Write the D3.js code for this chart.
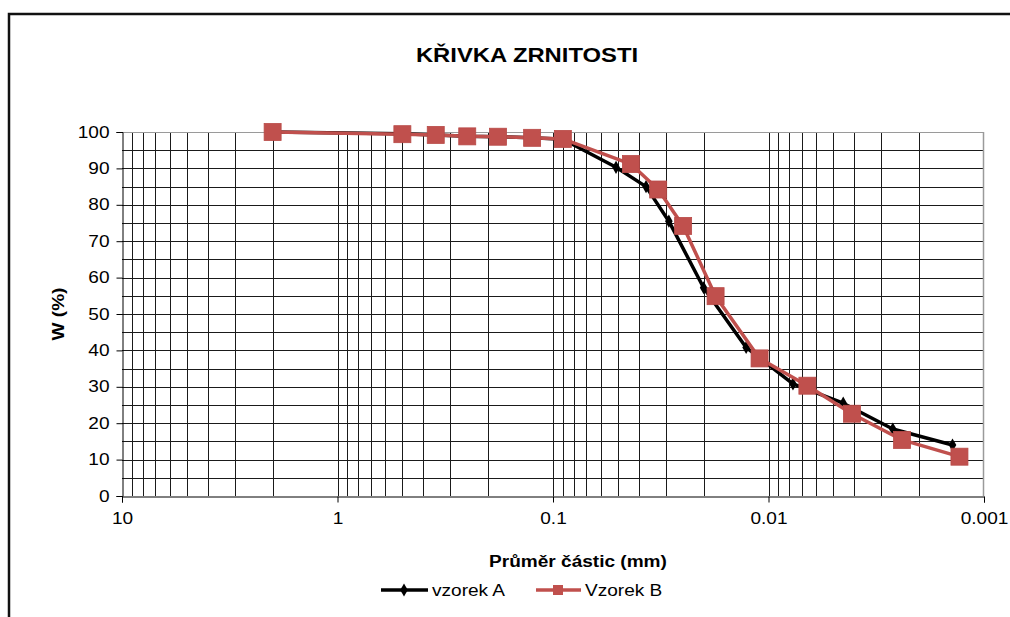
<!DOCTYPE html>
<html>
<head>
<meta charset="utf-8">
<script src="https://cdn.jsdelivr.net/npm/d3@7"></script>
<style>
  html, body { margin: 0; padding: 0; background: #fff; }
  svg { display: block; font-family: "Liberation Sans", Arial, sans-serif; }
</style>
</head>
<body>
<svg id="chart" width="1010" height="617"></svg>
<script>
// Grain size distribution: particle diameter (mm) vs. percentage passing
const sizesA = [2, 0.5, 0.35, 0.25, 0.18, 0.125, 0.09, 0.051, 0.037, 0.029, 0.020, 0.0127, 0.0077, 0.0045, 0.00265, 0.0014];
const passA  = [100, 99.5, 99.2, 98.8, 98.7, 98.4, 98.0, 90.3, 85.0, 75.5, 57.2, 40.8, 30.8, 25.5, 18.4, 14.0];
const sizesB = [2, 0.5, 0.35, 0.25, 0.18, 0.125, 0.09, 0.0435, 0.0325, 0.0249, 0.0176, 0.011, 0.0066, 0.0041, 0.0024, 0.0013];
const passB  = [100, 99.4, 99.2, 98.8, 98.7, 98.4, 98.1, 91.2, 84.2, 74.2, 54.9, 37.8, 30.3, 22.6, 15.4, 10.8];
const xTicks = [10, 1, 0.1, 0.01, 0.001];
const xTickLabels = ["10", "1", "0.1", "0.01", "0.001"];
const yTicks = [0, 10, 20, 30, 40, 50, 60, 70, 80, 90, 100];
const seriesNames = ["vzorek A", "Vzorek B"];
const titleText = "KŘIVKA ZRNITOSTI";
const xTitle = "Průměr částic (mm)";
const yTitle = "W (%)";

const colorA = "#000000";
const colorB = "#C0504D";

const svg = d3.select("#chart");
const plotL = 122, plotR = 984, plotT = 132, plotB = 496;

const x = d3.scaleLog().domain([10, 0.001]).range([plotL, plotR]);
const y = d3.scaleLinear().domain([0, 100]).range([plotB, plotT]);

// outer frame
svg.append("path")
  .attr("d", "M9,617 L9,14 L1010,14")
  .attr("fill", "none").attr("stroke", "#111").attr("stroke-width", 2.5);

// title
svg.append("text")
  .attr("x", 527).attr("y", 62)
  .attr("text-anchor", "middle")
  .attr("font-size", 20).attr("font-weight", "bold")
  .text(titleText);

const grid = svg.append("g");
// vertical grid at 1..9 of each decade
const vgrid = [];
for (let e = 0; e > -3.5; e--) {
  for (let k = 1; k <= 9; k++) {
    const v = k * Math.pow(10, e);
    if (v < 10 && v > 0.001) vgrid.push(v);
  }
}
grid.selectAll("line.v").data(vgrid).join("line")
  .attr("class", "v")
  .attr("x1", d => Math.round(x(d)) + 0.5).attr("x2", d => Math.round(x(d)) + 0.5)
  .attr("y1", plotT).attr("y2", plotB)
  .attr("stroke", "#1a1a1a").attr("stroke-width", 1);

// horizontal grid every 5 %
const hgrid = d3.range(5, 100, 5);
grid.selectAll("line.h").data(hgrid).join("line")
  .attr("class", "h")
  .attr("x1", plotL).attr("x2", plotR)
  .attr("y1", d => Math.round(y(d)) + 0.5).attr("y2", d => Math.round(y(d)) + 0.5)
  .attr("stroke", "#1a1a1a").attr("stroke-width", 1);

// top and right borders of plot area
grid.append("line").attr("x1", plotL).attr("x2", plotR)
  .attr("y1", plotT + 0.5).attr("y2", plotT + 0.5).attr("stroke", "#9a9a9a");
grid.append("line").attr("x1", plotR - 0.5).attr("x2", plotR - 0.5)
  .attr("y1", plotT).attr("y2", plotB).attr("stroke", "#9a9a9a").attr("stroke-width", 1.5);

// y axis
const yAxis = d3.axisLeft(y).tickValues(yTicks).tickSize(6).tickPadding(7);
const gy = svg.append("g").attr("transform", `translate(${plotL + 0.5},0)`).call(yAxis);
gy.select(".domain").attr("stroke", "#000");
gy.selectAll(".tick line").attr("stroke", "#000");
gy.selectAll(".tick text").attr("font-size", 16).attr("font-family", "Liberation Sans, Arial, sans-serif").attr("fill", "#000");

// x axis
const xAxis = d3.axisBottom(x).tickValues(xTicks)
  .tickFormat((d, i) => xTickLabels[i]).tickSize(6).tickPadding(10);
const gx = svg.append("g").attr("transform", `translate(0,${plotB + 0.5})`).call(xAxis);
gx.select(".domain").attr("stroke", "#000");
gx.selectAll(".tick line").attr("stroke", "#000");
gx.selectAll(".tick text").attr("font-size", 16).attr("font-family", "Liberation Sans, Arial, sans-serif").attr("fill", "#000");

// axis titles
svg.append("text")
  .attr("x", 578).attr("y", 567)
  .attr("text-anchor", "middle").attr("font-size", 16).attr("font-weight", "bold")
  .text(xTitle);
svg.append("text")
  .attr("transform", "translate(64,314) rotate(-90)")
  .attr("text-anchor", "middle").attr("font-size", 16).attr("font-weight", "bold")
  .text(yTitle);

// series
const dataA = sizesA.map((s, i) => [s, passA[i]]);
const dataB = sizesB.map((s, i) => [s, passB[i]]);
const line = d3.line().x(d => x(d[0])).y(d => y(d[1]));

const diamond = d3.symbol().type(d3.symbolDiamond).size(50);

svg.append("path").datum(dataA).attr("d", line)
  .attr("fill", "none").attr("stroke", colorA).attr("stroke-width", 3.5)
  .attr("stroke-linejoin", "round");
svg.selectAll("path.mA").data(dataA).join("path")
  .attr("class", "mA")
  .attr("transform", d => `translate(${x(d[0])},${y(d[1])})`)
  .attr("d", diamond).attr("fill", colorA);

svg.append("path").datum(dataB).attr("d", line)
  .attr("fill", "none").attr("stroke", colorB).attr("stroke-width", 3.5)
  .attr("stroke-linejoin", "round");
const sq = 17;
svg.selectAll("rect.mB").data(dataB).join("rect")
  .attr("class", "mB")
  .attr("x", d => x(d[0]) - sq / 2).attr("y", d => y(d[1]) - sq / 2)
  .attr("width", sq).attr("height", sq)
  .attr("fill", colorB).attr("stroke", "#b84a47").attr("stroke-width", 0.8);

// legend
const lg = svg.append("g").attr("transform", "translate(0,590)");
lg.append("line").attr("x1", 381).attr("x2", 428).attr("y1", 0).attr("y2", 0)
  .attr("stroke", colorA).attr("stroke-width", 3.5);
lg.append("path").attr("transform", "translate(404,0)").attr("d", diamond).attr("fill", colorA);
lg.append("text").attr("x", 432).attr("y", 6).attr("font-size", 16).text(seriesNames[0]);

lg.append("line").attr("x1", 536).attr("x2", 581).attr("y1", 0).attr("y2", 0)
  .attr("stroke", colorB).attr("stroke-width", 3.5);
lg.append("rect").attr("x", 553).attr("y", -5).attr("width", 10).attr("height", 10).attr("fill", colorB);
lg.append("text").attr("x", 585).attr("y", 6).attr("font-size", 16).text(seriesNames[1]);

// the typeface is set slightly wide: stretch every label horizontally
svg.selectAll("text").each(function () {
  const w = this.getComputedTextLength();
  d3.select(this).attr("textLength", w * 1.19).attr("lengthAdjust", "spacingAndGlyphs");
});
</script>
</body>
</html>
